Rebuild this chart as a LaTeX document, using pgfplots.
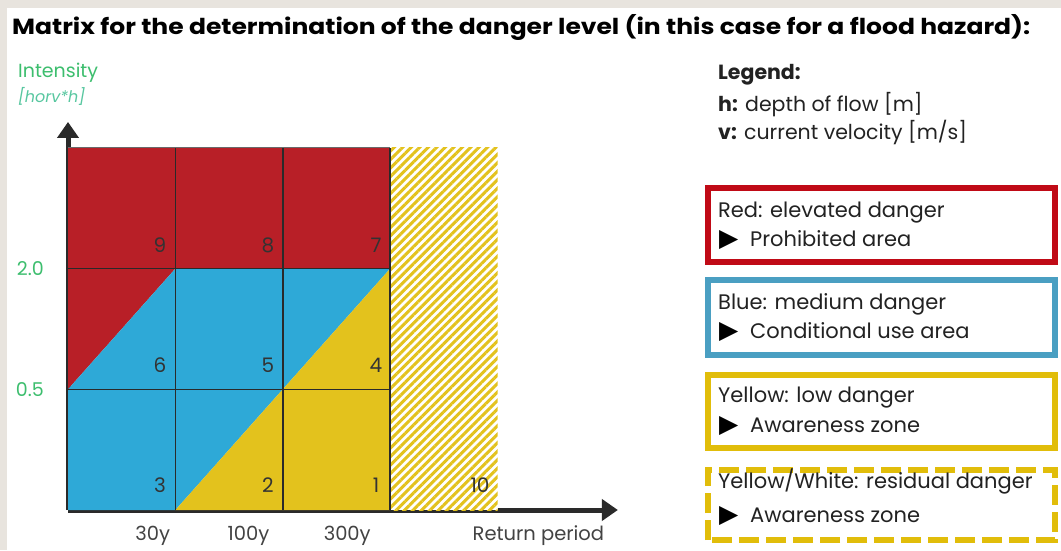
\documentclass[border=0pt]{standalone}
\usepackage{fontspec}
\setmainfont{Poppins}
\newfontfamily\symfont{DejaVu Sans}
\usepackage{graphicx}
\usepackage{pgfplots}
\pgfplotsset{compat=1.18}
\usetikzlibrary{arrows.meta,patterns.meta}
\definecolor{bgc}{HTML}{E8E4DE}
\definecolor{cred}{HTML}{B81F27}
\definecolor{cblue}{HTML}{2EA9D7}
\definecolor{cyel}{HTML}{E3C21D}
\definecolor{bred}{HTML}{C00A16}
\definecolor{bblue}{HTML}{4A9FC2}
\definecolor{byel}{HTML}{E1BD0A}
\definecolor{gridc}{HTML}{2A2A2A}
\definecolor{cgreen}{HTML}{3DBE6E}
\definecolor{cteal}{HTML}{58C7A0}
\definecolor{numc}{HTML}{333333}
\definecolor{txt}{HTML}{222222}
\begin{document}
\begin{tikzpicture}[x=1pt,y=1pt]
\path[use as bounding box] (0,0) rectangle (1061,550);
\fill[bgc] (0,0) rectangle (1061,550);
\fill[white] (7,0) rectangle (1061,542);
\node[anchor=base west, inner sep=0] at (12,515) {\resizebox{1018pt}{20pt}{\bfseries Matrix for the determination of the danger level (in this case for a flood hazard):}};
\node[anchor=base west, inner sep=0, text=cgreen] at (18,472) {\fontsize{19}{22}\selectfont Intensity};
\node[anchor=base west, inner sep=0, text=cteal] at (18,447) {\fontsize{16}{19}\selectfont\itshape [horv*h]};
\begin{axis}[at={(68pt,40pt)}, anchor=origin, x=107.4pt, y=120.7pt,
  xmin=0, xmax=5.12, ymin=0, ymax=3.215,
  axis lines=left, clip=false,
  axis line style={line width=5pt, color=gridc, -{Triangle[length=16pt,width=21pt]}},
  major tick length=0pt,
  /pgf/number format/assume math mode=true,
  ytick={1,2}, yticklabels={0.5,2.0},
  yticklabel style={text=cgreen, font=\fontsize{19}{21}\selectfont, anchor=east, inner sep=0pt, xshift=-24pt},
  xtick={0.79,1.68,2.6,4.38}, xticklabels={30y,100y,300y,Return period},
  xticklabel style={text=txt!85, font=\fontsize{19.5}{21}\selectfont, anchor=base, inner sep=0pt, yshift=-30pt},
]
\addplot[fill=cred, draw=none] coordinates {(0,1) (1,2) (3,2) (3,3) (0,3)} -- cycle;
\addplot[fill=cblue, draw=none] coordinates {(0,0) (1,0) (3,2) (1,2) (0,1)} -- cycle;
\addplot[fill=cyel, draw=none] coordinates {(1,0) (3,0) (3,2)} -- cycle;
\addplot[fill=white, draw=none] coordinates {(3,0) (4,0) (4,3) (3,3)} -- cycle;
\addplot[draw=none, pattern={Lines[angle=45, distance=6pt, line width=3pt]}, pattern color=cyel] coordinates {(3,0) (4,0) (4,3) (3,3)} -- cycle;
\addplot[gridc, line width=1.5pt] coordinates {(1,0) (1,3)};
\addplot[gridc, line width=1.5pt] coordinates {(2,0) (2,3)};
\addplot[gridc, line width=1.5pt] coordinates {(3,0) (3,3)};
\addplot[gridc, line width=1.5pt] coordinates {(0,1) (3,1)};
\addplot[gridc, line width=1.5pt] coordinates {(0,2) (3,2)};
\addplot[gridc!70, line width=1pt] coordinates {(0,3) (3,3)};
\foreach \n/\xx/\yy in {9/0.857/2.195, 8/1.862/2.195, 7/2.868/2.195, 6/0.857/1.2, 5/1.862/1.2, 4/2.868/1.2, 3/0.857/0.207, 2/1.862/0.207, 1/2.868/0.207, 10/3.836/0.207}{
  \edef\tmp{\noexpand\node[text=numc, font=\noexpand\fontsize{20}{22}\noexpand\selectfont, inner sep=0pt] at (axis cs:\xx,\yy) {\n};}\tmp
}
\end{axis}
% legend
\node[anchor=base west, inner sep=0, text=txt] at (718,470) {\fontsize{20.5}{24}\selectfont\bfseries Legend:};
\node[anchor=base west, inner sep=0, text=txt] at (718,438) {\fontsize{20.5}{24}\selectfont\textbf{h:} depth of flow [m]};
\node[anchor=base west, inner sep=0, text=txt] at (718,410) {\fontsize{20.5}{24}\selectfont\textbf{v:} current velocity [m/s]};
\draw[bred, line width=6pt] (708,288) rectangle (1055,362);
\draw[bblue, line width=6pt] (708,195) rectangle (1055,270);
\draw[byel, line width=6pt] (708,102) rectangle (1055,175);
\draw[byel, line width=6pt, dash pattern=on 20pt off 7pt] (708,10) rectangle (1055,80);
\foreach \ya/\yb/\ta/\tb in {332/303/{Red: elevated danger}/{Prohibited area}, 241/212/{Blue: medium danger}/{Conditional use area}, 148/118/{Yellow: low danger}/{Awareness zone}, 62/28/{Yellow/White: residual danger}/{Awareness zone}}{
  \node[anchor=base west, inner sep=0, text=txt] at (718,\ya) {\fontsize{21}{24}\selectfont \ta};
  \node[anchor=base west, inner sep=0, text=black] at (719,\yb) {\fontsize{25}{26}\selectfont\symfont ▶};
  \node[anchor=base west, inner sep=0, text=txt] at (750,\yb) {\fontsize{21}{24}\selectfont \tb};
}
\end{tikzpicture}
\end{document}
